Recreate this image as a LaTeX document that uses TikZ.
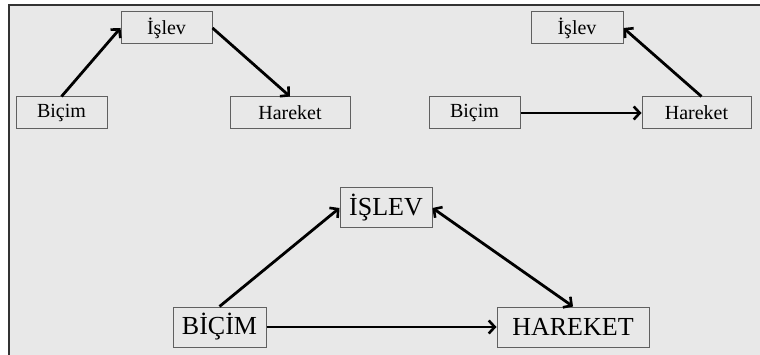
\documentclass[tikz,border=0pt]{standalone}
\usepackage{fontspec}
\setmainfont{Liberation Serif}
\usetikzlibrary{arrows.meta}
\definecolor{bg}{HTML}{E8E8E8}
\definecolor{boxline}{HTML}{606060}
\tikzset{
  sbox/.style={draw=boxline, line width=1pt, fill=bg, inner sep=0pt, minimum height=32pt,
    font=\fontsize{20}{20}\selectfont},
  lbox/.style={draw=boxline, line width=1pt, fill=bg, inner sep=0pt, minimum height=40pt,
    font=\fontsize{26}{26}\selectfont},
  tip/.tip={Straight Barb[length=6pt,width=13pt,line width=2.6pt]},
  arr/.style={line width=2.8pt, -tip},
  darr/.style={line width=2.8pt, tip-tip}
}
\begin{document}
\begin{tikzpicture}[x=1pt,y=-1pt]
\useasboundingbox (0,0) rectangle (760,355);
\fill[white] (0,0) rectangle (760,355);
\fill[bg] (9,5) rectangle (760,355);
\draw[line width=2pt, color=black!80] (9,355) -- (9,5) -- (760,5);

% top-left
\node[sbox, minimum width=91pt] (i1) at (166.5,28) {İşlev};
\node[sbox, minimum width=91pt] (b1) at (61.5,113) {Biçim};
\node[sbox, minimum width=120pt] (h1) at (290,113) {Hareket};
\draw[arr] (b1.north) -- (i1.west);
\draw[arr] (i1.east) -- (h1.north);

% top-right
\node[sbox, minimum width=92pt] (i2) at (577,28) {İşlev};
\node[sbox, minimum width=91pt] (b2) at (474.5,113) {Biçim};
\node[sbox, minimum width=109pt] (h2) at (696.5,113) {Hareket};
\draw[arr] (b2.east) -- (h2.west);
\draw[arr] ([xshift=5pt]h2.north) -- (i2.east);

% bottom
\node[lbox, minimum width=92pt] (i3) at (386,208) {İŞLEV};
\node[lbox, minimum width=93pt] (b3) at (219.5,327) {BİÇİM};
\node[lbox, minimum width=152pt] (h3) at (573,327) {HAREKET};
\draw[arr] (b3.north) -- (i3.west);
\draw[darr] (i3.east) -- (h3.north);
\draw[arr] (b3.east) -- (h3.west);
\end{tikzpicture}
\end{document}
